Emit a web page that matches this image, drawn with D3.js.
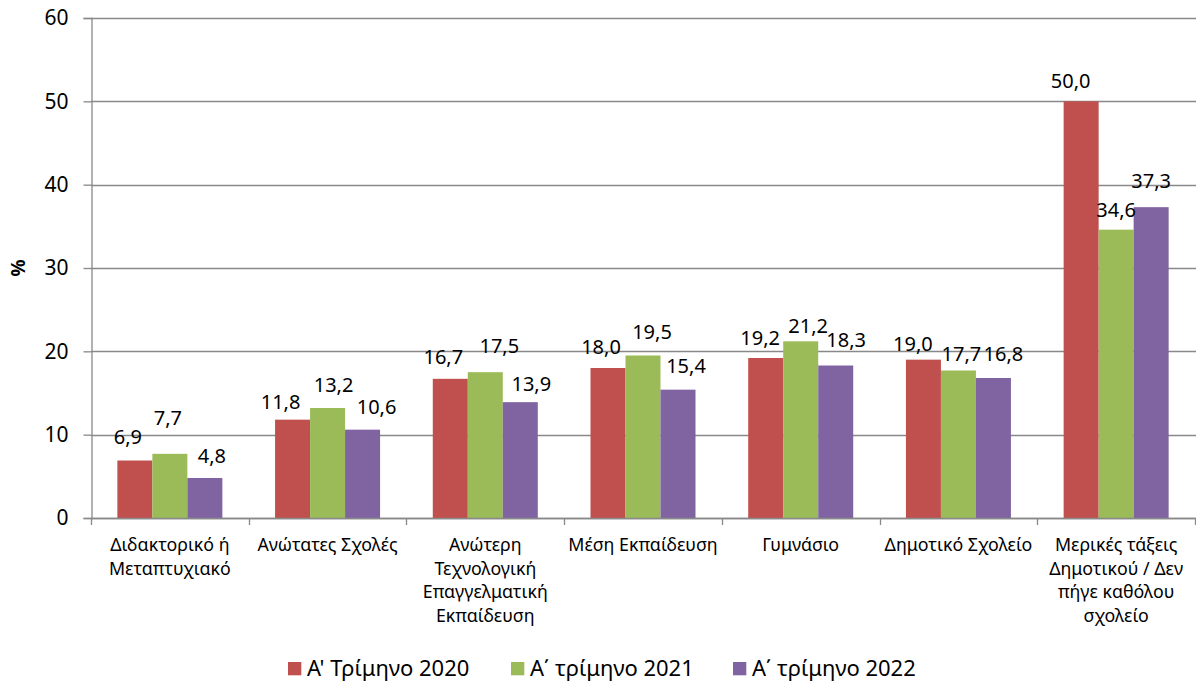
<!DOCTYPE html>
<html>
<head>
<meta charset="utf-8">
<script src="https://cdn.jsdelivr.net/npm/d3@7"></script>
<style>
  html, body { margin: 0; padding: 0; background: #ffffff; }
  svg { display: block; font-family: "Noto Sans", "Open Sans", sans-serif; }
</style>
</head>
<body>
<svg id="chart" width="1196" height="683"></svg>
<script>
// ---- data ----
const categories = [
  ["Διδακτορικό ή", "Μεταπτυχιακό"],
  ["Ανώτατες Σχολές"],
  ["Ανώτερη", "Τεχνολογική", "Επαγγελματική", "Εκπαίδευση"],
  ["Μέση Εκπαίδευση"],
  ["Γυμνάσιο"],
  ["Δημοτικό Σχολείο"],
  ["Μερικές τάξεις", "Δημοτικού / Δεν", "πήγε καθόλου", "σχολείο"]
];
const seriesNames = ["Α' Τρίμηνο 2020", "Α΄ τρίμηνο 2021", "Α΄ τρίμηνο 2022"];
const values2020 = [6.9, 11.8, 16.7, 18.0, 19.2, 19.0, 50.0];
const values2021 = [7.7, 13.2, 17.5, 19.5, 21.2, 17.7, 34.6];
const values2022 = [4.8, 10.6, 13.9, 15.4, 18.3, 16.8, 37.3];
const yTicks = [0, 10, 20, 30, 40, 50, 60];
const yTitle = "%";

// ---- label placement nudges (as moved in the original) ----
const labelNudgeX = [
  [-7, -12, -7, -7, -5.5, -10.5, -10.5],
  [-2, 6, 14, 9, 7.5, 3, 0],
  [7, 14, 11, 8, 10.5, 10, 0]
];
const labelLift = [
  [23.5, 17.5, 22, 21.5, 20, 15.7, 20],
  [36, 23, 26, 24, 15, 16.5, 19.7],
  [22, 22.7, 18, 24, 26, 24, 25.7]
];

const colors = ["#C0504D", "#9BBB59", "#8064A2"];
const seriesValues = [values2020, values2021, values2022];

const svg = d3.select("#chart");
const mLeft = 91, mRight = 1195, mTop = 18, mBottom = 518;
const catIdx = d3.range(categories.length);

const x0 = d3.scaleBand().domain(catIdx).range([mLeft, mRight]).padding(0);
const x1 = d3.scaleBand().domain(d3.range(3)).range([0, x0.bandwidth()])
  .paddingInner(0).paddingOuter(0.753);
const y = d3.scaleLinear().domain([0, 60]).range([mBottom, mTop]);

const gridColor = "#898989";

// gridlines
svg.append("g").selectAll("line").data(yTicks).join("line")
  .attr("x1", mLeft).attr("x2", 1196)
  .attr("y1", d => Math.round(y(d)) + 0.5).attr("y2", d => Math.round(y(d)) + 0.5)
  .attr("stroke", gridColor).attr("stroke-width", 1.3);

// y axis
const yAxis = d3.axisLeft(y).tickValues(yTicks).tickSize(8).tickPadding(15)
  .tickFormat(d3.format("d"));
const gy = svg.append("g").attr("transform", `translate(${mLeft + 0.5},0)`).call(yAxis);
gy.select(".domain").attr("stroke", gridColor).attr("stroke-width", 1.3);
gy.selectAll(".tick line").attr("stroke", gridColor).attr("stroke-width", 1.3);
gy.selectAll(".tick text").attr("font-size", 21).attr("fill", "#000")
  .attr("font-family", "Noto Sans, sans-serif");

// x axis ticks at category boundaries
const boundaries = d3.range(categories.length + 1).map(i => mLeft + i * x0.step());
svg.append("g").selectAll("line").data(boundaries).join("line")
  .attr("x1", d => Math.round(d) + 0.5).attr("x2", d => Math.round(d) + 0.5)
  .attr("y1", mBottom).attr("y2", mBottom + 7)
  .attr("stroke", gridColor).attr("stroke-width", 1.3);

// bars
const groups = svg.append("g").selectAll("g").data(seriesValues).join("g")
  .attr("fill", (d, i) => colors[i]);
groups.each(function(vals, s) {
  d3.select(this).selectAll("rect").data(vals).join("rect")
    .attr("x", (d, i) => x0(i) + x1(s))
    .attr("width", x1.bandwidth())
    .attr("y", d => y(d))
    .attr("height", d => y(0) - y(d));
});

// redraw baseline on top of bars
svg.append("line").attr("x1", mLeft).attr("x2", 1196)
  .attr("y1", Math.round(y(0)) + 0.5).attr("y2", Math.round(y(0)) + 0.5)
  .attr("stroke", gridColor).attr("stroke-width", 1.3);

// data labels
const fmt = v => d3.format(".1f")(v).replace(".", ",");
seriesValues.forEach((vals, s) => {
  svg.append("g").selectAll("text").data(vals).join("text")
    .attr("x", (d, i) => x0(i) + x1(s) + x1.bandwidth() / 2 + labelNudgeX[s][i])
    .attr("y", (d, i) => y(d) - labelLift[s][i])
    .attr("dy", "0.35em")
    .attr("text-anchor", "middle")
    .attr("font-size", 20)
    .attr("fill", "#000")
    .text(d => fmt(d));
});

// category labels
const catG = svg.append("g").selectAll("text").data(categories).join("text")
  .attr("text-anchor", "middle")
  .attr("font-size", 17.8)
  .attr("fill", "#000")
  .attr("transform", (d, i) => `translate(${x0(i) + x0.bandwidth() / 2},551)`);
catG.selectAll("tspan").data(d => d).join("tspan")
  .attr("x", 0).attr("y", (d, j) => j * 23.6).text(d => d);

// y title
svg.append("text")
  .attr("transform", "translate(25,268) rotate(-90)")
  .attr("text-anchor", "middle")
  .attr("font-size", 19).attr("font-weight", "bold")
  .text(yTitle);

// legend
const legendX = [288, 511, 733];
const lg = svg.append("g").selectAll("g").data(seriesNames).join("g")
  .attr("transform", (d, i) => `translate(${legendX[i]},662)`);
lg.append("rect").attr("width", 13.3).attr("height", 13.3).attr("y", 0)
  .attr("fill", (d, i) => colors[i]);
lg.append("text").attr("x", 19).attr("y", 13.5)
  .attr("font-size", 22).attr("fill", "#000").text(d => d);
</script>
</body>
</html>
